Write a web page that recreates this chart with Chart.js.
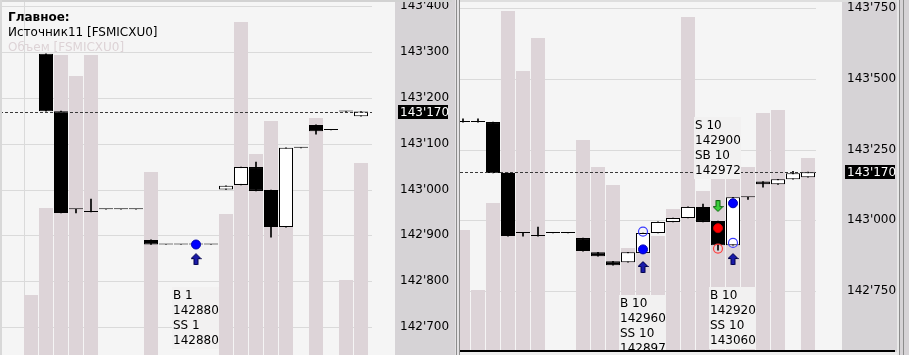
<!DOCTYPE html>
<html lang="ru">
<head>
<meta charset="utf-8">
<title>FSMICXU0</title>
<script src="https://cdn.jsdelivr.net/npm/chart.js@4.4.1/dist/chart.umd.min.js"></script>
<style>
  html, body { margin: 0; padding: 0; }
  body { width: 909px; height: 355px; overflow: hidden; position: relative; background: #ededed;
         font-family: "DejaVu Sans", Verdana, sans-serif; }
  canvas { position: absolute; top: 0; }
  #leftChart { left: 0; }
  #rightChart { left: 460px; }
  .frame { position: absolute; box-sizing: border-box; }
  .hdr { position: absolute; left: 8px; font-size: 12px; line-height: 15px; white-space: nowrap; color: #000; }
</style>
</head>
<body>
<canvas id="leftChart" width="452" height="355"></canvas>
<canvas id="rightChart" width="437" height="352"></canvas>

<div class="frame" style="left:0;top:0;width:452px;height:2px;background:#d2d2d2"></div>
<div class="frame" style="left:0;top:0;width:2px;height:355px;background:#d8d8d8"></div>
<div class="frame" style="left:452px;top:0;width:8px;height:355px;background:#e4e2e4;border-left:3px solid #d6d3d6;border-right:1px solid #8c8c8c"></div>
<div class="frame" style="left:456px;top:0;width:1px;height:355px;background:#8c8c8c"></div>
<div class="frame" style="left:460px;top:0;width:437px;height:2px;background:#dedede"></div>
<div class="frame" style="left:897px;top:0;width:12px;height:355px;background:#d6d3d6;border-left:2px solid #e8e8e8"></div>
<div class="frame" style="left:899px;top:0;width:1px;height:355px;background:#8c8c8c"></div>
<div class="frame" style="left:903px;top:0;width:1px;height:355px;background:#8c8c8c"></div>

<div class="hdr" style="top:10px;font-weight:bold">Главное:</div>
<div class="hdr" style="top:25px">Источник11 [FSMICXU0]</div>
<div class="hdr" style="top:40px;color:#ddd3d6">Объем [FSMICXU0]</div>

<script>
// ---- left panel (bar index 0..22), prices in points ----
const leftOpen  = [null, 143296, 143171, 142957, 142951, 142957, 142957, 142957, 142890, 142880, 142880, 142880, 142880, 143000, 143010, 143049, 142999, 142918, 143091, 143141, 143130, 143170, 143160];
const leftHigh  = [null, 143296, 143171, 142957, 142979, 142957, 142957, 142957, 142890, 142880, 142880, 142880, 142880, 143008, 143049, 143060, 142999, 143091, 143091, 143141, 143130, 143170, 143170];
const leftLow   = [null, 143171, 142949, 142949, 142951, 142957, 142957, 142957, 142880, 142880, 142880, 142880, 142880, 143000, 143010, 142997, 142896, 142918, 143091, 143121, 143130, 143170, 143160];
const leftClose = [null, 143171, 142949, 142957, 142951, 142957, 142957, 142957, 142880, 142880, 142880, 142880, 142880, 143008, 143049, 142997, 142918, 143091, 143091, 143127, 143130, 143170, 143170];
const leftVol   = [20, 49, 100, 93, 100, 0, 0, 0, 61, 0, 0, 0, 0, 47, 111, 67, 78, 65, 0, 79, 0, 25, 64];
const leftTicks = [142700, 142800, 142900, 143000, 143100, 143200, 143300, 143400];

const leftMarkIdx   = [11, 11];
const leftMarkPrice = [142880, 142848];
const leftMarkKind  = ['dot', 'up'];

const leftNoteIdx  = [11];
const leftNoteSide = ['below'];
const leftNoteText = [['B 1', '142880', 'SS 1', '142880']];

// ---- right panel (bar index 0..23) ----
const rightOpen  = [143347, 143347, 143347, 143167, 142955, 142944, 142955, 142955, 142937, 142887, 142855, 142852, 142884, 142955, 142994, 143008, 143047, 142997, 142912, 143081, 143137, 143127, 143145, 143152];
const rightHigh  = [143358, 143358, 143347, 143167, 142955, 142976, 142955, 142955, 142937, 142887, 142855, 142887, 142955, 142994, 143008, 143047, 143057, 142997, 143081, 143081, 143137, 143145, 143173, 143170];
const rightLow   = [143347, 143347, 143167, 142944, 142944, 142944, 142955, 142955, 142891, 142873, 142841, 142852, 142884, 142955, 142994, 143008, 142994, 142894, 142912, 143074, 143117, 143127, 143145, 143152];
const rightClose = [143347, 143347, 143167, 142944, 142955, 142944, 142955, 142955, 142891, 142873, 142841, 142887, 142955, 142994, 143008, 143047, 142994, 142912, 143081, 143081, 143127, 143145, 143166, 143170];
const rightVol   = [40, 20, 49, 113, 93, 104, 0, 0, 70, 61, 55, 34, 38, 38, 47, 111, 53, 58, 57, 61, 79, 80, 0, 64];
const rightTicks = [142750, 143000, 143250, 143500, 143750];

const rightMarkIdx   = [12, 12, 12, 17, 17, 17, 18, 18, 18];
const rightMarkPrice = [142960, 142897, 142835, 142972, 142900, 143050, 143060, 142920, 142863];
const rightMarkKind  = ['ring', 'dot', 'up', 'redDot', 'redRing', 'down', 'dot', 'ring', 'up'];

const rightNoteIdx  = [12, 17, 18];
const rightNoteSide = ['below', 'above', 'below'];
const rightNoteText = [['B 10', '142960', 'SS 10', '142897'], ['S 10', '142900', 'SB 10', '142972'], ['B 10', '142920', 'SS 10', '143060']];

const lastPrice = 143170;

const fmtPrice = v => { const s = String(Math.round(v)); return s.slice(0, -3) + "'" + s.slice(-3); };

function arrowImage(up, fill, stroke) {
  const c = document.createElement('canvas');
  c.width = 11; c.height = 12;
  const g = c.getContext('2d');
  const pts = [[5.5, 0.5], [10.5, 5.5], [7.5, 5.5], [7.5, 11.5], [3.5, 11.5], [3.5, 5.5], [0.5, 5.5]];
  g.beginPath();
  pts.forEach(([x, y], i) => { const yy = up ? y : 12 - y; i ? g.lineTo(x, yy) : g.moveTo(x, yy); });
  g.closePath();
  g.fillStyle = fill; g.fill();
  g.strokeStyle = stroke; g.lineWidth = 1; g.stroke();
  return c;
}

const markStyles = {
  dot:     { style: 'circle', r: 4.5, bg: '#0000ff', border: '#0000b0', bw: 1 },
  ring:    { style: 'circle', r: 4.5, bg: 'rgba(0,0,0,0)', border: '#3a3aff', bw: 1.2 },
  redDot:  { style: 'circle', r: 4.5, bg: '#ff0000', border: '#c80000', bw: 1 },
  redRing: { style: 'circle', r: 4.5, bg: 'rgba(0,0,0,0)', border: '#ff4040', bw: 1.2 },
  up:      { style: arrowImage(true, '#1a1aa8', '#00004a'), r: 6 },
  down:    { style: arrowImage(false, '#3ccf3c', '#0b5e0b'), r: 6 }
};

const panelDeco = {
  id: 'panelDeco',
  beforeDraw(chart, args, o) {
    const { ctx, chartArea: a, width, height } = chart;
    ctx.save();
    ctx.fillStyle = '#f5f5f5';
    ctx.fillRect(a.left, a.top, a.right - a.left, a.bottom - a.top);
    ctx.fillStyle = '#d6d3d6';
    ctx.fillRect(a.right, 0, width - a.right, height);
    ctx.restore();
  },
  beforeDatasetsDraw(chart, args, o) {
    const { ctx, chartArea: a, scales } = chart;
    const end = a.right - o.gap;
    ctx.save();
    ctx.strokeStyle = '#dadada';
    ctx.lineWidth = 1;
    o.ticks.forEach(v => {
      const y = Math.round(scales.y.getPixelForValue(v)) + 0.5;
      ctx.beginPath(); ctx.moveTo(a.left, y); ctx.lineTo(end, y); ctx.stroke();
    });
    (o.vlines || []).forEach(v => {
      const x = Math.round(scales.x.getPixelForValue(v)) + 0.5;
      ctx.beginPath(); ctx.moveTo(x, a.top); ctx.lineTo(x, a.bottom); ctx.stroke();
    });
    ctx.restore();
  },
  afterDatasetsDraw(chart, args, o) {
    const { ctx, chartArea: a, scales } = chart;
    ctx.save();
    // last price dashed line
    const yl = Math.round(scales.y.getPixelForValue(lastPrice)) + 0.5;
    ctx.strokeStyle = '#3a3a3a';
    ctx.setLineDash([3, 2]);
    ctx.beginPath(); ctx.moveTo(a.left, yl); ctx.lineTo(a.right - o.gap, yl); ctx.stroke();
    ctx.setLineDash([]);
    // trade notes
    ctx.font = '12px "DejaVu Sans"';
    ctx.textBaseline = 'middle';
    o.noteIdx.forEach((i, n) => {
      const lines = o.noteText[n];
      const k = o.markIdx.findIndex((m, j) => m === i && (o.markKind[j] === 'up' || o.markKind[j] === 'down'));
      const ay = scales.y.getPixelForValue(o.markPrice[k]);
      const x = Math.round(scales.x.getPixelForValue(i)) - 23;
      const y0 = o.noteSide[n] === 'below' ? ay + 37 : ay - 35 - 15 * (lines.length - 1);
      ctx.fillStyle = '#f2f1f1';
      ctx.fillRect(x - 1, Math.round(y0 - 9), 47, 15 * (lines.length - 1) + 17);
      ctx.fillStyle = '#000';
      lines.forEach((t, j) => ctx.fillText(t, x, Math.round(y0 + 15 * j)));
    });
    ctx.restore();
  },
  afterDraw(chart, args, o) {
    const { ctx, chartArea: a, scales, width } = chart;
    ctx.save();
    const y = Math.round(scales.y.getPixelForValue(lastPrice));
    ctx.fillStyle = '#000';
    ctx.fillRect(a.right + 3, y - 7, 50, 14);
    ctx.fillStyle = '#fff';
    ctx.font = '12px "DejaVu Sans"';
    ctx.textBaseline = 'middle';
    ctx.fillText(fmtPrice(lastPrice), a.right + 5, y + 0.5);
    if (o.bottomLine) {
      ctx.fillStyle = '#000';
      ctx.fillRect(0, a.bottom, width - 2, 2);
    }
    ctx.restore();
  }
};

function buildPanel(id, p) {
  const idx = p.vol.map((_, i) => i);
  const candles = idx.filter(i => p.open[i] != null);
  const markDatasets = Object.keys(markStyles).map(kind => {
    const s = markStyles[kind];
    const pts = [];
    p.markKind.forEach((k, j) => { if (k === kind) pts.push({ x: p.markIdx[j], y: p.markPrice[j] }); });
    return {
      type: 'line', label: kind, data: pts, showLine: false, order: 0,
      pointStyle: s.style, pointRadius: s.r, pointHoverRadius: s.r,
      pointBackgroundColor: s.bg, pointBorderColor: s.border, pointBorderWidth: s.bw || 0
    };
  }).filter(d => d.data.length);

  return new Chart(document.getElementById(id), {
    type: 'bar',
    data: {
      datasets: [
        {
          label: 'Объем', yAxisID: 'vol', order: 3, grouped: false,
          data: idx.map(i => ({ x: i, y: p.vol[i] })),
          backgroundColor: '#ddd4d8', borderWidth: 0,
          barPercentage: 14 / 15, categoryPercentage: 1
        },
        {
          label: 'wick', order: 2, grouped: false,
          data: candles.map(i => ({ x: i, y: [p.low[i], p.high[i]] })),
          backgroundColor: '#000', borderWidth: 0, barThickness: 1
        },
        {
          label: 'body', order: 1, grouped: false,
          data: candles.map(i => ({ x: i, y: [Math.min(p.open[i], p.close[i]), Math.max(p.open[i], p.close[i])] })),
          backgroundColor: candles.map(i => p.close[i] > p.open[i] ? '#ffffff' : '#000000'),
          borderColor: '#000', borderWidth: 1, borderSkipped: false, minBarLength: 1,
          barPercentage: 14 / 15, categoryPercentage: 1
        },
        ...markDatasets
      ]
    },
    options: {
      responsive: false, animation: false, devicePixelRatio: 1, events: [],
      layout: { autoPadding: false, padding: { left: 0, right: 0, top: 0, bottom: p.padBottom } },
      plugins: {
        legend: { display: false },
        tooltip: { enabled: false },
        panelDeco: {
          gap: p.gap, ticks: p.ticks, vlines: p.vlines, bottomLine: p.bottomLine,
          noteIdx: p.noteIdx, noteSide: p.noteSide, noteText: p.noteText,
          markIdx: p.markIdx, markPrice: p.markPrice, markKind: p.markKind
        }
      },
      scales: {
        x: {
          type: 'linear', display: false, offset: false, min: p.xMin, max: p.xMax,
          ticks: { stepSize: 1, includeBounds: false }, grid: { display: false }
        },
        y: {
          type: 'linear', position: 'right', min: p.yMin, max: p.yMax,
          afterBuildTicks: s => { s.ticks = p.ticks.map(v => ({ value: v })); },
          ticks: {
            padding: 5, color: '#000', autoSkip: false,
            font: { family: 'DejaVu Sans', size: 12 },
            callback: v => fmtPrice(v)
          },
          grid: { display: false, drawTicks: false },
          border: { display: false },
          afterFit: s => { s.width = p.axisW; s.paddingTop = 0; s.paddingBottom = 0; }
        },
        vol: { type: 'linear', display: false, min: 0, max: p.volMax }
      }
    },
    plugins: [panelDeco]
  });
}

buildPanel('leftChart', {
  open: leftOpen, high: leftHigh, low: leftLow, close: leftClose, vol: leftVol, ticks: leftTicks,
  markIdx: leftMarkIdx, markPrice: leftMarkPrice, markKind: leftMarkKind,
  noteIdx: leftNoteIdx, noteSide: leftNoteSide, noteText: leftNoteText,
  xMin: -31 / 15, xMax: 364 / 15, yMin: 142638.9, yMax: 143413.5, volMax: 118.3,
  axisW: 57, gap: 23, padBottom: 0, vlines: [-0.5], bottomLine: false
});

buildPanel('rightChart', {
  open: rightOpen, high: rightHigh, low: rightLow, close: rightClose, vol: rightVol, ticks: rightTicks,
  markIdx: rightMarkIdx, markPrice: rightMarkPrice, markKind: rightMarkKind,
  noteIdx: rightNoteIdx, noteSide: rightNoteSide, noteText: rightNoteText,
  xMin: -0.2, xMax: 379 / 15, yMin: 142541.5, yMax: 143778.3, volMax: 116.7,
  axisW: 55, gap: 26, padBottom: 2, vlines: [], bottomLine: true
});
</script>
</body>
</html>
